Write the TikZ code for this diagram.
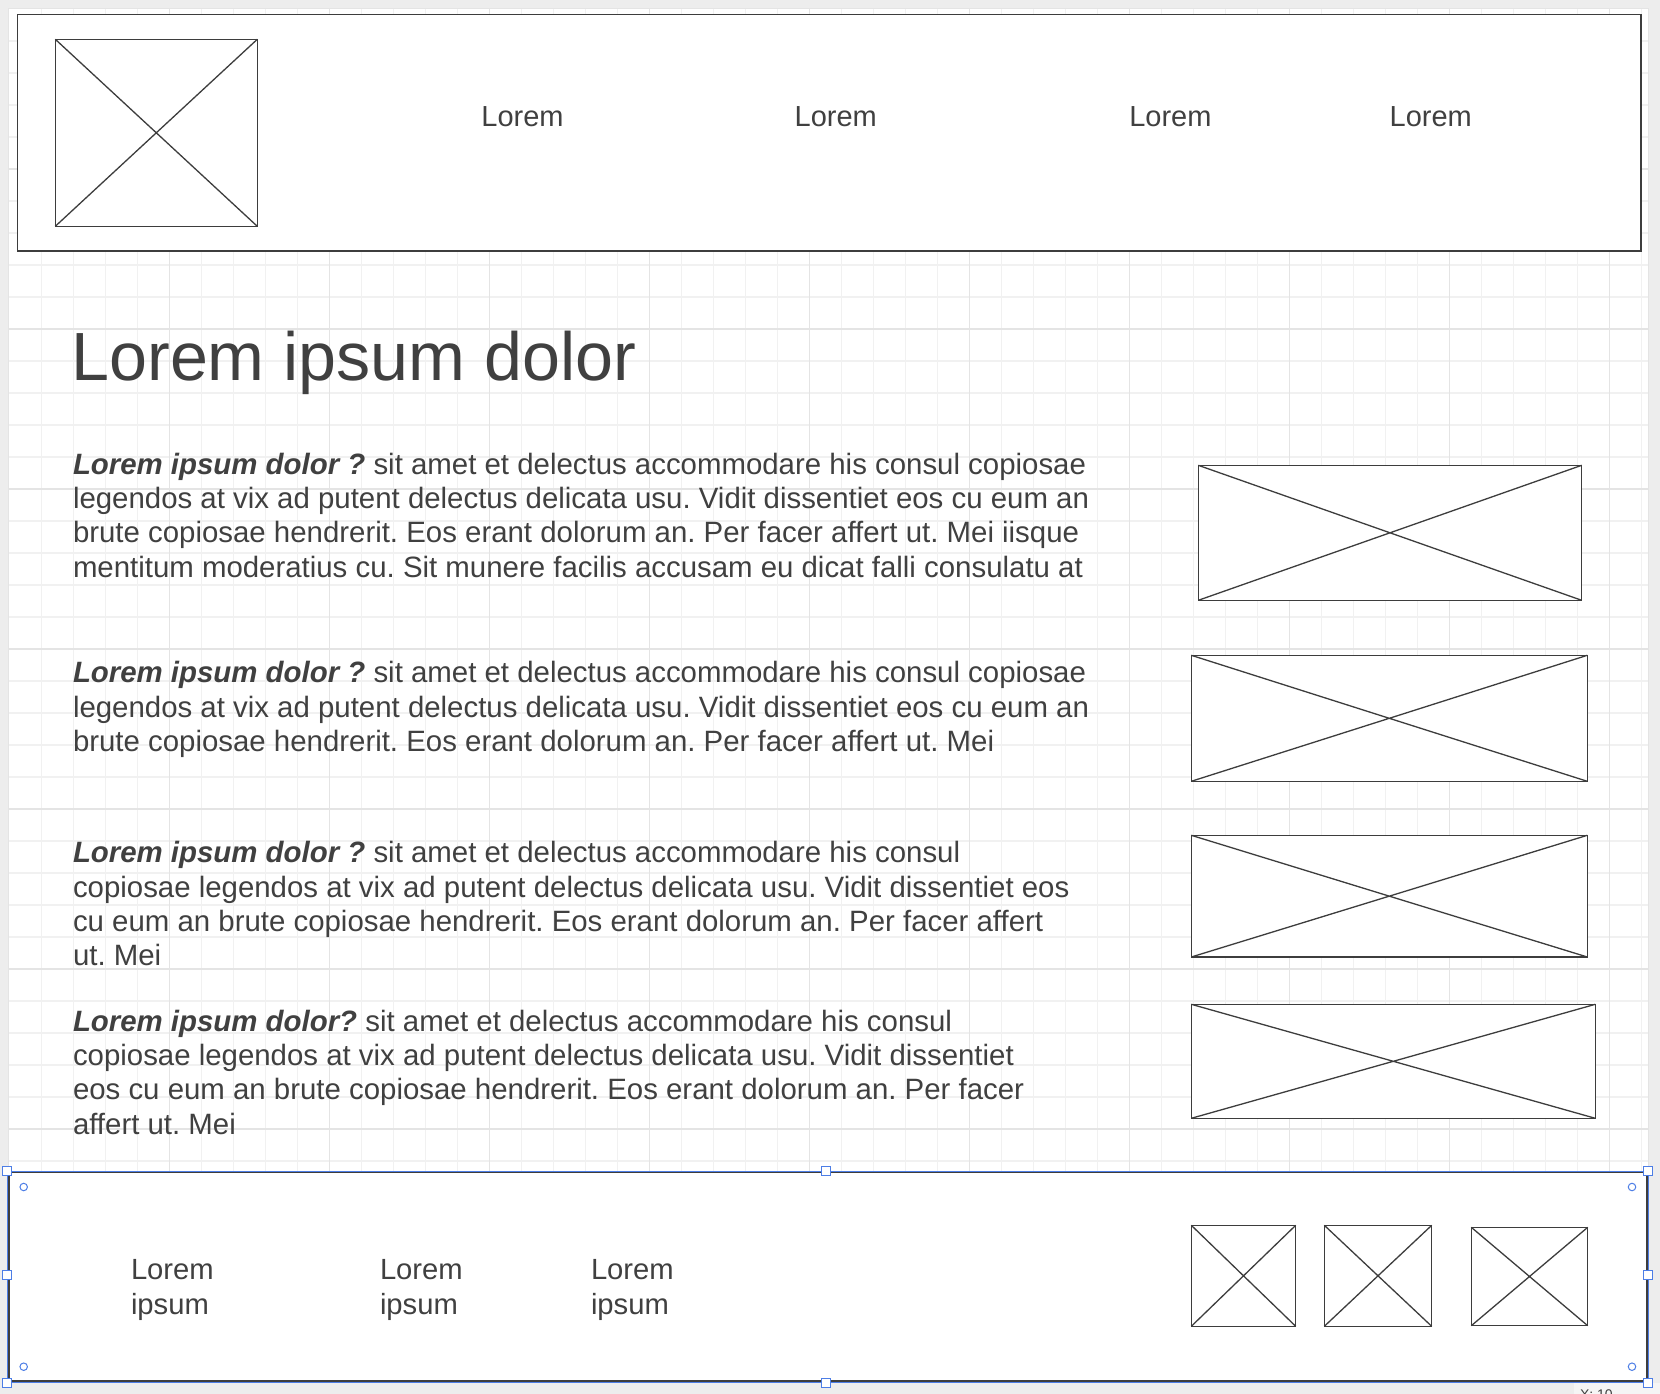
\documentclass[tikz,border=0pt]{standalone}
\usepackage{fontspec}
\setmainfont{Liberation Sans}
\frenchspacing
\definecolor{inkc}{HTML}{3D3D3D}
\definecolor{txtc}{HTML}{404040}
\definecolor{pagegrey}{HTML}{EDEDED}
\definecolor{gridminor}{HTML}{F1F1F1}
\definecolor{gridmajor}{HTML}{E4E4E4}
\definecolor{selblue}{HTML}{4D7EE6}
\definecolor{tipgrey}{HTML}{F5F5F5}

% wireframe image placeholder: name, x1, y1, x2, y2
\newcommand\wirebox[5]{%
  \node[imgbox, minimum width={#4-#2}, minimum height={#5-#3}] (#1) at ({(#2+#4)/2},{(#3+#5)/2}) {};
  \draw[ink] (#1.north west) -- (#1.south east) (#1.south west) -- (#1.north east);
}

\begin{document}
\begin{tikzpicture}[x=1pt,y=-1pt,
  ink/.style={draw=inkc, line width=1.3pt},
  imgbox/.style={ink, fill=white, rectangle, inner sep=0pt, outer sep=0pt},
  panel/.style={ink, fill=white, rectangle, inner sep=0pt, outer sep=0pt},
  minorline/.style={draw=gridminor, line width=1.2pt},
  majorline/.style={draw=gridmajor, line width=1.2pt},
  txt/.style={text=txtc, inner sep=0pt, outer sep=0pt},
  body/.style={txt, anchor=base west, font=\fontsize{29.4}{34.3}\selectfont},
  navtxt/.style={txt, anchor=base, font=\fontsize{29}{34.3}\selectfont},
  foottxt/.style={txt, anchor=base west, font=\fontsize{29.2}{35}\selectfont},
  handle/.style={draw=selblue, fill=white, line width=1pt, rectangle, inner sep=0pt, minimum size=9pt},
  ring/.style={draw=selblue, fill=white, line width=1pt, circle, inner sep=0pt, minimum size=7.5pt},
]
\useasboundingbox (0,0) rectangle (1660,1394);

% page and grid
\fill[pagegrey] (0,0) rectangle (1660,1394);
\fill[white] (8.3,8.3) rectangle (1648,1382);
\foreach \i in {1,...,51} {
  \pgfmathsetmacro\gx{9.3+32*\i}
  \draw[minorline] (\gx,8.3) -- (\gx,1382);
}
\foreach \i in {1,...,42} {
  \pgfmathsetmacro\gy{9+32*\i}
  \draw[minorline] (8.3,\gy) -- (1648,\gy);
}
\foreach \gx in {169.3,329.3,...,1609.3}
  \draw[majorline] (\gx,8.3) -- (\gx,1382);
\foreach \gy in {169,329,...,1289}
  \draw[majorline] (8.3,\gy) -- (1648,\gy);
\draw[draw=gridmajor, line width=1pt] (8.3,8.3) rectangle (1648,1382);

% header bar
\node[panel, minimum width=1623.7pt, minimum height=236.7pt] (header) at (829.15,132.65) {};
\wirebox{logo}{55.3}{39.3}{257.3}{226.3}
\node[navtxt] (nav1) at (522.5,127) {Lorem};
\node[navtxt] (nav2) at (835.8,127) {Lorem};
\node[navtxt] (nav3) at (1170.4,127) {Lorem};
\node[navtxt] (nav4) at (1430.8,127) {Lorem};

% title
\node[txt, anchor=base west, font=\fontsize{68.2}{80}\selectfont] (title) at (71.5,380) {Lorem ipsum dolor};

% text blocks
\node[body] (p1) at (73,474.3) {\vtop{%
  \hbox{\textbf{\textit{Lorem ipsum dolor ?}} sit amet et delectus accommodare his consul copiosae}
  \hbox{legendos at vix ad putent delectus delicata usu. Vidit dissentiet eos cu eum an}
  \hbox{brute copiosae hendrerit. Eos erant dolorum an. Per facer affert ut. Mei iisque}
  \hbox{mentitum moderatius cu. Sit munere facilis accusam eu dicat falli consulatu at}}};
\node[body] (p2) at (73,682.9) {\vtop{%
  \hbox{\textbf{\textit{Lorem ipsum dolor ?}} sit amet et delectus accommodare his consul copiosae}
  \hbox{legendos at vix ad putent delectus delicata usu. Vidit dissentiet eos cu eum an}
  \hbox{brute copiosae hendrerit. Eos erant dolorum an. Per facer affert ut. Mei}}};
\node[body] (p3) at (73,862.9) {\vtop{%
  \hbox{\textbf{\textit{Lorem ipsum dolor ?}} sit amet et delectus accommodare his consul}
  \hbox{copiosae legendos at vix ad putent delectus delicata usu. Vidit dissentiet eos}
  \hbox{cu eum an brute copiosae hendrerit. Eos erant dolorum an. Per facer affert}
  \hbox{ut. Mei}}};
\node[body] (p4) at (73,1031.2) {\vtop{%
  \hbox{\textbf{\textit{Lorem ipsum dolor?}} sit amet et delectus accommodare his consul}
  \hbox{copiosae legendos at vix ad putent delectus delicata usu. Vidit dissentiet}
  \hbox{eos cu eum an brute copiosae hendrerit. Eos erant dolorum an. Per facer}
  \hbox{affert ut. Mei}}};

% pictures beside the text blocks
\wirebox{img1}{1198.3}{465.3}{1581.7}{600.3}
\wirebox{img2}{1191.3}{655.3}{1587.3}{781.3}
\wirebox{img3}{1191.3}{835.3}{1587.3}{957}
\wirebox{img4}{1191.3}{1004.3}{1595.3}{1118.3}

% footer bar
\node[panel, minimum width=1638pt, minimum height=209pt] (footer) at (828,1276.5) {};
\node[foottxt] (f1) at (131,1279) {\vtop{\hbox{Lorem}\hbox{ipsum}}};
\node[foottxt] (f2) at (380,1279) {\vtop{\hbox{Lorem}\hbox{ipsum}}};
\node[foottxt] (f3) at (591,1279) {\vtop{\hbox{Lorem}\hbox{ipsum}}};
\wirebox{icon1}{1191.3}{1225.3}{1295.7}{1326.3}
\wirebox{icon2}{1324.3}{1225.3}{1431.7}{1326.3}
\wirebox{icon3}{1471.3}{1227.3}{1587.7}{1325.7}

% selection frame round the footer
\draw[draw=selblue, line width=1pt] (7,1171) rectangle (1648,1382.7);
\node[handle] (hnw) at (7,1171) {};
\node[handle] (hn) at (826,1171) {};
\node[handle] (hne) at (1648,1171) {};
\node[handle] (hw) at (7,1275) {};
\node[handle] (he) at (1648,1275) {};
\node[handle] (hsw) at (7,1382.7) {};
\node[handle] (hs) at (826,1382.7) {};
\node[ring] (rnw) at (23.7,1187) {};
\node[ring] (rne) at (1632,1187) {};
\node[ring] (rsw) at (23.7,1366.7) {};
\node[ring] (rse) at (1632,1366.7) {};

% position tip at the lower edge
\begin{scope}
  \clip (1574,1383) rectangle (1660,1394);
  \fill[tipgrey] (1574,1383) rectangle (1660,1400);
  \node[txt, anchor=base west, font=\fontsize{14}{16}\selectfont] (tip) at (1580,1399) {X: 10};
\end{scope}
\node[handle] (hse) at (1648,1382.7) {};
\end{tikzpicture}
\end{document}
